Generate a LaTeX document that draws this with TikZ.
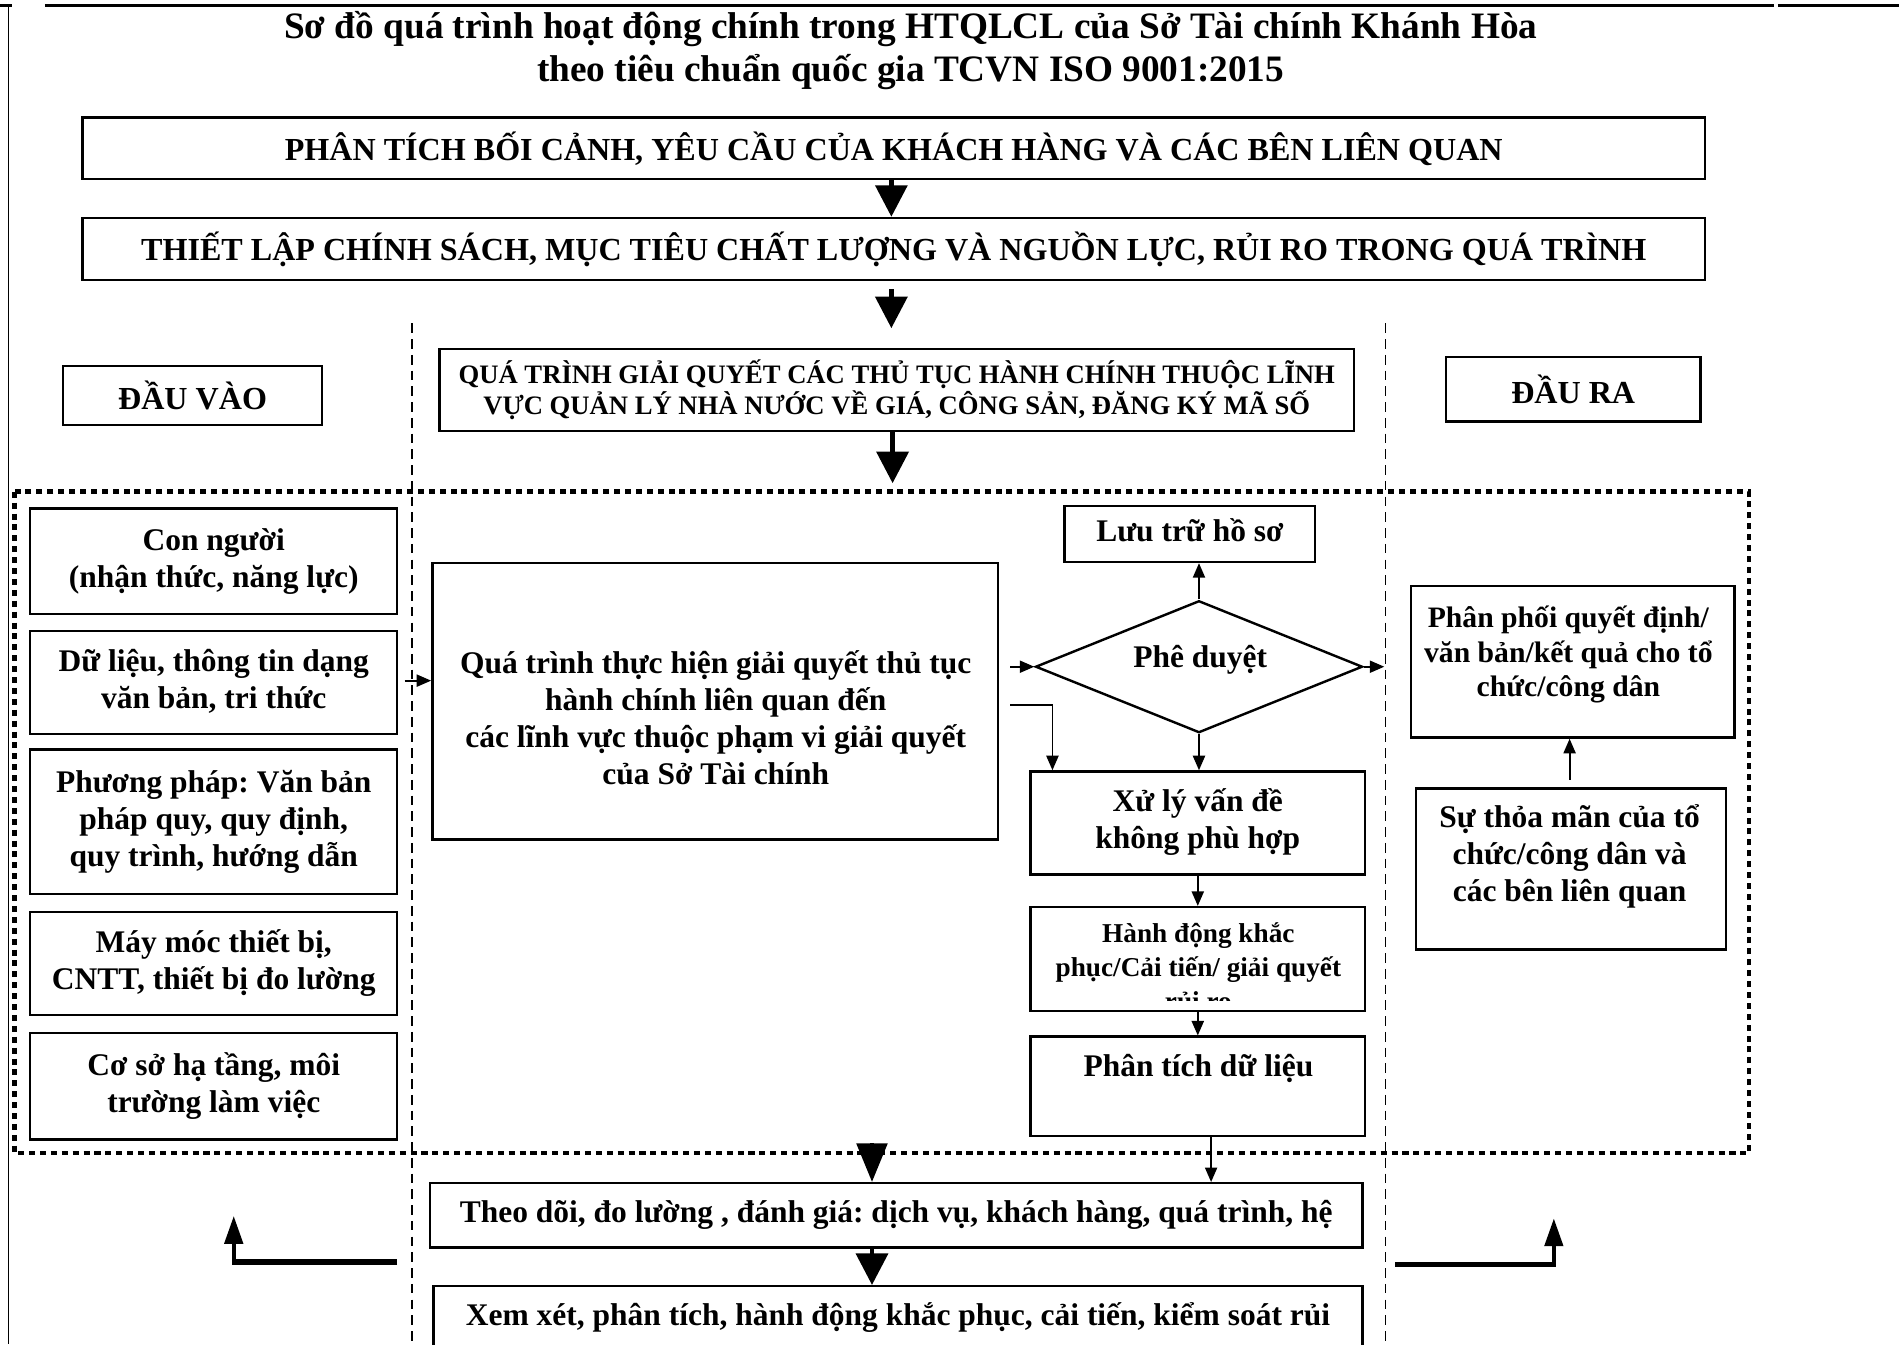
\documentclass[tikz,border=0pt]{standalone}
\usepackage{fontspec}
\setmainfont{Liberation Serif}
\usetikzlibrary{arrows.meta,calc,shapes.geometric}
\frenchspacing
\newcommand\fTitle{\bfseries\fontsize{30.8}{35}\selectfont}
\newcommand\fCaps{\bfseries\fontsize{26.5}{30}\selectfont}
\newcommand\fQt{\bfseries\fontsize{22}{26}\selectfont}
\newcommand\fStd{\bfseries\fontsize{26}{30.5}\selectfont}
\newcommand\fSm{\bfseries\fontsize{24.5}{28.5}\selectfont}
\newcommand\fHd{\bfseries\fontsize{22.5}{28}\selectfont}
\begin{document}
\begin{tikzpicture}[x=1pt,y=-1pt,
  box/.style={draw, line width=2pt, inner sep=0pt, align=center, font=\fStd},
  txt/.style={inner sep=0pt, align=center, font=\fStd},
  bigarr/.style={line width=4pt, -{Triangle[width=26pt,length=26pt]}},
  longarr/.style={line width=4pt, -{Triangle[width=25pt,length=32pt]}},
  thinarr/.style={line width=1.5pt, -{Triangle[width=10pt,length=12pt]}},
  vdash/.style={line width=1.5pt, dash pattern=on 8pt off 5pt},
  dotfr/.style={line width=3.8pt, dash pattern=on 5pt off 4pt},
  elbow/.style={line width=4.5pt},
  uparr/.style={line width=3.5pt, -{Triangle[width=15pt,length=23pt]}}]
\useasboundingbox (0,0) rectangle (1568,1110);
\fill[white] (0,0) rectangle (1568,1110);
\clip (0,0) rectangle (1568,1110);
% frame
\draw[line width=2pt] (0,4.5) -- (10,4.5);
\draw[line width=2pt] (37,4.5) -- (1465,4.5);
\draw[line width=2pt] (1468,4.5) -- (1568,4.5);
\draw[line width=1.5pt] (7,4) -- (7,1110);
% title
\node[txt, font=\fTitle] (title) at (752,42.5) {Sơ đồ quá trình hoạt động chính trong HTQLCL của Sở Tài chính Khánh Hòa\strut\\theo tiêu chuẩn quốc gia TCVN ISO 9001:2015\strut};
% top boxes
\node[box, font=\fCaps, minimum width=1340pt, minimum height=51pt] (b1) at (738,122.5) {PHÂN TÍCH BỐI CẢNH, YÊU CẦU CỦA KHÁCH HÀNG VÀ CÁC BÊN LIÊN QUAN};
\node[box, font=\fCaps, minimum width=1340pt, minimum height=51pt] (b2) at (738,205.5) {THIẾT LẬP CHÍNH SÁCH, MỤC TIÊU CHẤT LƯỢNG VÀ NGUỒN LỰC, RỦI RO TRONG QUÁ TRÌNH};
\node[box, font=\fCaps, minimum width=214pt, minimum height=49pt] (invao) at (159,326.5) {ĐẦU VÀO};
\node[box, font=\fQt, minimum width=755pt, minimum height=68pt] (qt) at (740.5,322) {QUÁ TRÌNH GIẢI QUYẾT CÁC THỦ TỤC HÀNH CHÍNH THUỘC LĨNH\\VỰC QUẢN LÝ NHÀ NƯỚC VỀ GIÁ, CÔNG SẢN, ĐĂNG KÝ MÃ SỐ};
\node[box, font=\fCaps, minimum width=210pt, minimum height=53pt] (dra) at (1299,321.5) {ĐẦU RA};
% dashed separators
\draw[vdash] (340,267) -- (340,1110);
\draw[vdash] (1144,267) -- (1144,1110);
% dotted frame
\draw[dotfr] (12,406) rectangle (1444,952);
% left column
\node[box, minimum width=303pt, minimum height=87pt] (con) at (176.5,463.5) {Con người\strut\\(nhận thức, năng lực)\strut};
\node[box, minimum width=303pt, minimum height=85pt] (du) at (176.5,563.5) {Dữ liệu, thông tin dạng\strut\\văn bản, tri thức\strut};
\node[box, minimum width=303pt, minimum height=119pt] (ppm) at (176.5,678.5) {Phương pháp: Văn bản\strut\\pháp quy, quy định,\strut\\quy trình, hướng dẫn\strut};
\node[box, minimum width=303pt, minimum height=85pt] (mm) at (176.5,795.5) {Máy móc thiết bị,\strut\\CNTT, thiết bị đo lường\strut};
\node[box, minimum width=303pt, minimum height=88pt] (cs) at (176.5,897) {Cơ sở hạ tầng, môi\strut\\trường làm việc\strut};
% centre
\node[box, minimum width=467pt, minimum height=228pt] (big) at (590.5,579) {};
\node[txt] (bigt) at (591,596) {Quá trình thực hiện giải quyết thủ tục\strut\\hành chính liên quan đến\strut\\các lĩnh vực thuộc phạm vi giải quyết\strut\\của Sở Tài chính\strut};
\node[box, minimum width=207pt, minimum height=46pt] (lt) at (982.5,441) {Lưu trữ hồ sơ\strut};
\node[diamond, draw, line width=2pt, minimum width=270pt, minimum height=109pt, inner sep=0pt] (pd) at (990,550.5) {};
\node[txt] (pdt) at (991,545) {Phê duyệt\strut};
\node[box, minimum width=276pt, minimum height=85pt] (xl) at (989,679.5) {Xử lý vấn đề\strut\\không phù hợp\strut};
\node[box, minimum width=276pt, minimum height=86pt] (hd) at (989,792) {};
\begin{scope}
\clip (852,750) rectangle (1126,826);
\node[txt, font=\fHd] (hdt) at (989.5,801) {Hành động khắc\strut\\phục/Cải tiến/ giải quyết\strut\\rủi ro\strut};
\end{scope}
\node[box, minimum width=276pt, minimum height=82pt] (pt) at (989,897) {};
\node[txt] (ptt) at (989.5,883) {Phân tích dữ liệu\strut};
% right column
\node[box, minimum width=267pt, minimum height=125pt] (pp) at (1298.5,546.5) {};
\node[txt, font=\fSm] (ppt) at (1295,541) {Phân phối quyết định/\strut\\văn bản/kết quả cho tổ\strut\\chức/công dân\strut};
\node[box, minimum width=256pt, minimum height=133pt] (sm) at (1297,717.5) {};
\node[txt] (smt) at (1296,708) {Sự thỏa mãn của tổ\strut\\chức/công dân và\strut\\các bên liên quan\strut};
% bottom
\node[box, minimum width=770pt, minimum height=53pt] (td) at (740,1003.5) {Theo dõi, đo lường , đánh giá: dịch vụ, khách hàng, quá trình, hệ\strut};
\node[box, minimum width=767pt, minimum height=80pt] (xx) at (741.5,1102) {};
\node[txt] (xxt) at (741.5,1088) {Xem xét, phân tích, hành động khắc phục, cải tiến, kiểm soát rủi\strut};
% coordinates
\coordinate (a1x) at (736,0);
\coordinate (a2e) at (736,271);
\coordinate (a3e) at (737,399);
\coordinate (a4s) at (720,944);
\coordinate (pdR) at (1143,550.5);
\coordinate (ptx) at (1000,938);
\coordinate (bl1) at (328,1042);
\coordinate (bl2) at (193,1042);
\coordinate (bl3) at (193,1004);
\coordinate (br1) at (1152,1044);
\coordinate (br2) at (1283,1044);
\coordinate (br3) at (1283,1006);
% big arrows
\draw[bigarr] (b1.south -| a1x) -- (b2.north -| a1x);
\draw[bigarr] ($(b2.south -| a2e)+(0,7)$) -- (a2e);
\draw[bigarr] (qt.south -| a3e) -- (a3e);
\draw[longarr] (a4s) -- (td.north -| a4s);
\draw[bigarr] (td.south -| a4s) -- (xx.north -| a4s);
% thin arrows
\draw[thinarr] ($(big.west)+(-22,-17)$) -- ($(big.west)+(0,-17)$);
\draw[thinarr] ($(big.east)+(9,-28.5)$) -- (pd.west);
\draw[thinarr] ($(big.east)+(9,3)$) -| ($(xl.north west)+(19,0)$);
\draw[thinarr] (pd.north) -- (lt.south -| pd.north);
\draw[thinarr] (pd.east) -- (pdR);
\draw[thinarr] (pd.south) -- (xl.north -| pd.south);
\draw[thinarr] (xl.south) -- (hd.north);
\draw[thinarr] (hd.south) -- (pt.north);
\draw[thinarr] (pt.south -| ptx) -- (td.north -| ptx);
\draw[thinarr] ($(sm.north)+(-1,-6)$) -- ($(pp.south)+(-2.5,0)$);
% bottom elbows
\draw[elbow] (bl1) -- ($(bl2)+(-1.75,0)$);
\draw[uparr] ($(bl2)+(0,2)$) -- (bl3);
\draw[elbow] (br1) -- ($(br2)+(1.75,0)$);
\draw[uparr] ($(br2)+(0,2)$) -- (br3);
\end{tikzpicture}
\end{document}
